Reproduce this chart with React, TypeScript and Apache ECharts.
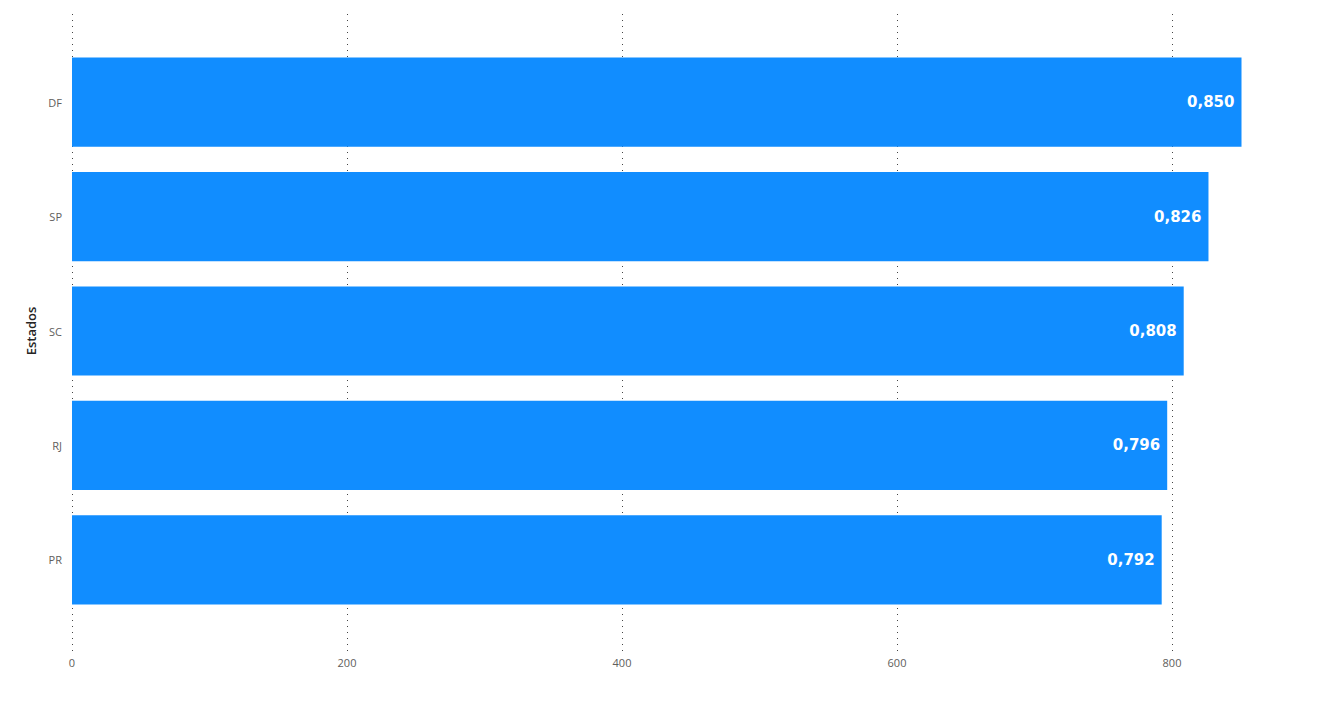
import React, { useEffect, useRef } from "react";
import * as echarts from "echarts";

const categories = ["DF", "SP", "SC", "RJ", "PR"];
const values = [850, 826, 808, 796, 792];
const xTicks = [0, 200, 400, 600, 800];
const yAxisTitle = "Estados";

export default function App() {
  const ref = useRef<HTMLDivElement>(null);
  useEffect(() => {
    if (!ref.current) return;
    const chart = echarts.init(ref.current, null, { renderer: "svg" });
    const font = "'Segoe UI', 'Open Sans', sans-serif";
    chart.setOption({
      animation: false,
      grid: [
        { left: 72, right: 80.5, top: 45, bottom: 99 },
        { left: 72, right: 150, top: 14, bottom: 64 },
      ],
      xAxis: [
        {
          gridIndex: 0,
          type: "value",
          min: 0,
          max: 850,
          show: false,
          splitLine: { show: false },
        },
        {
          gridIndex: 1,
          type: "value",
          min: xTicks[0],
          max: xTicks[xTicks.length - 1],
          interval: 200,
          axisLine: { show: false },
          axisTick: { show: false },
          axisLabel: { color: "#605E5C", fontSize: 11, fontFamily: font, margin: 5 },
          splitLine: { show: true, lineStyle: { type: [1, 5], color: "#444", width: 1 } },
        },
      ],
      yAxis: [
        {
          gridIndex: 0,
          type: "category",
          data: categories,
          inverse: true,
          axisLine: { show: false },
          axisTick: { show: false },
          axisLabel: { color: "#605E5C", fontSize: 11, fontFamily: font, margin: 10 },
          name: yAxisTitle,
          nameLocation: "middle",
          nameGap: 34,
          nameRotate: 90,
          nameTextStyle: { color: "#252423", fontSize: 13, fontWeight: 600, fontFamily: font },
        },
        {
          gridIndex: 1,
          type: "value",
          show: false,
        },
      ],
      series: [
        {
          type: "bar",
          xAxisIndex: 0,
          yAxisIndex: 0,
          data: values,
          barCategoryGap: "22%",
          itemStyle: { color: "#118DFF" },
          label: {
            show: true,
            position: "insideRight",
            distance: 7,
            color: "#fff",
            fontSize: 15,
            fontWeight: "bold",
            fontFamily: "'DejaVu Sans', sans-serif",
            formatter: (p: any) => (p.value / 1000).toFixed(3).replace(".", ","),
          },
        },
      ],
    });
    return () => chart.dispose();
  }, []);
  return (
    <div
      ref={ref}
      style={{ position: "fixed", left: 0, top: 0, width: 1322, height: 716, background: "#fff" }}
    />
  );
}
